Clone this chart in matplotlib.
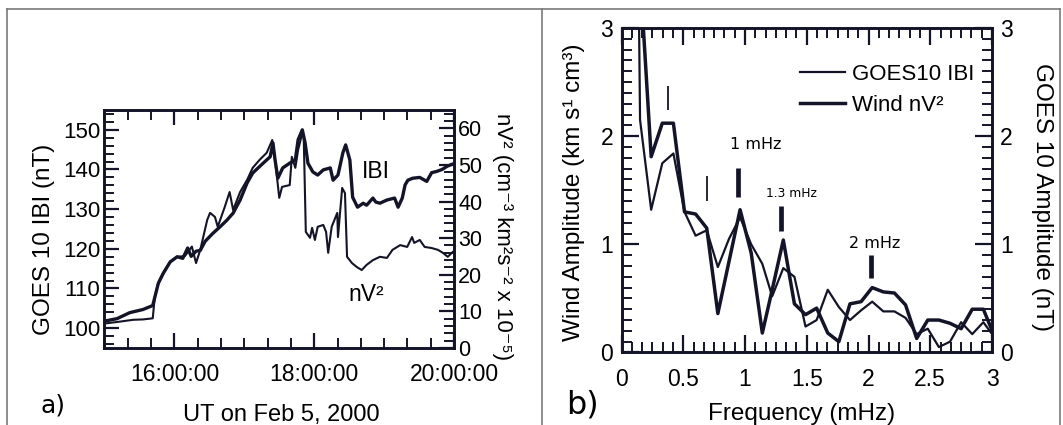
import numpy as np
import matplotlib.pyplot as plt
from matplotlib.lines import Line2D
from matplotlib.ticker import MultipleLocator, FixedLocator

plt.rcParams['font.family'] = ['Liberation Sans', 'DejaVu Sans']

# panel a) GOES 10 |B| (nT) and Wind nV^2, time in hours UT on Feb 5, 2000
ibi_t = [15.01, 15.18, 15.36, 15.55, 15.69, 15.72, 15.77, 15.84, 15.94, 16.04,
         16.12, 16.19, 16.24, 16.31, 16.37, 16.44, 16.55, 16.65, 16.75, 16.84,
         16.94, 17.04, 17.12, 17.27, 17.37, 17.41, 17.44, 17.48, 17.55, 17.65,
         17.73, 17.77, 17.83, 17.87, 17.91, 17.98, 18.05, 18.13, 18.23, 18.27,
         18.34, 18.41, 18.45, 18.51, 18.55, 18.62, 18.70, 18.75, 18.84, 18.88,
         18.94, 19.04, 19.15, 19.20, 19.26, 19.30, 19.34, 19.41, 19.51, 19.61,
         19.68, 19.75, 19.83, 19.90, 19.97]
ibi_nt = [101.8, 102.4, 103.9, 104.7, 105.7, 107.8, 111.3, 113.8, 116.7, 118.0,
          117.6, 120.2, 118.1, 119.4, 119.6, 121.9, 123.9, 125.5, 127.2, 129.0,
          132.3, 136.6, 139.1, 141.6, 143.2, 146.7, 142.4, 137.8, 140.4, 141.6,
          142.4, 147.5, 150.0, 146.7, 141.6, 139.4, 138.6, 139.9, 140.4, 137.3,
          138.6, 144.2, 146.2, 142.4, 133.0, 130.5, 131.5, 131.0, 132.8, 131.8,
          131.5, 132.3, 132.8, 130.5, 132.8, 136.1, 137.3, 137.8, 138.0, 137.0,
          139.2, 139.5, 140.0, 140.8, 141.3]

nv2_t = [15.01, 15.22, 15.41, 15.55, 15.69, 15.72, 15.77, 15.84, 15.94, 16.04,
         16.15, 16.25, 16.31, 16.37, 16.47, 16.51, 16.58, 16.62, 16.72, 16.79,
         16.84, 16.94, 17.04, 17.12, 17.22, 17.32, 17.40, 17.44, 17.50, 17.54,
         17.65, 17.68, 17.73, 17.77, 17.83, 17.85, 17.88, 17.94, 17.97, 18.01,
         18.05, 18.13, 18.17, 18.20, 18.25, 18.33, 18.34, 18.40, 18.44, 18.47,
         18.54, 18.61, 18.68, 18.75, 18.84, 18.94, 19.04, 19.12, 19.23, 19.33,
         19.40, 19.43, 19.51, 19.58, 19.68, 19.77, 19.84, 19.91, 19.98]
nv2_val = [6.7, 7.2, 7.7, 7.8, 8.1, 14.0, 17.8, 20.5, 23.6, 24.9,
           25.1, 27.7, 23.2, 26.8, 35.0, 36.9, 35.8, 33.1, 38.5, 42.6,
           37.7, 42.6, 45.9, 49.2, 51.4, 53.3, 56.8, 51.4, 41.0, 44.0,
           44.5, 52.2, 49.2, 54.1, 58.7, 57.7, 31.7, 30.1, 32.8, 29.5,
           33.1, 33.6, 31.7, 26.0, 33.1, 36.9, 30.3, 43.7, 42.3, 24.9,
           23.2, 22.1, 21.3, 22.7, 24.0, 24.9, 24.6, 26.8, 28.1, 27.6,
           30.3, 28.7, 29.5, 27.6, 27.3, 26.8, 26.0, 24.9, 26.2]

# panel b) amplitude spectra
freq_mhz = [0.06, 0.15, 0.24, 0.33, 0.42, 0.51, 0.60, 0.69, 0.78, 0.87,
            0.96, 1.05, 1.14, 1.22, 1.31, 1.40, 1.49, 1.58, 1.67, 1.76,
            1.85, 1.94, 2.03, 2.12, 2.21, 2.30, 2.39, 2.48, 2.57, 2.66,
            2.75, 2.84, 2.93, 3.02]
goes_amp = [12.0, 2.15, 1.32, 1.75, 1.84, 1.30, 1.08, 1.13, 0.79, 1.05,
            1.25, 1.00, 0.82, 0.52, 0.78, 0.70, 0.24, 0.30, 0.58, 0.42,
            0.30, 0.39, 0.47, 0.38, 0.38, 0.32, 0.17, 0.22, 0.05, 0.10,
            0.28, 0.17, 0.28, 0.14]
wind_amp = [5.0, 3.5, 1.81, 2.12, 2.12, 1.30, 1.28, 1.15, 0.36, 0.84,
            1.32, 0.92, 0.18, 0.58, 1.04, 0.45, 0.35, 0.41, 0.18, 0.10,
            0.45, 0.47, 0.60, 0.56, 0.55, 0.44, 0.13, 0.30, 0.30, 0.27,
            0.22, 0.40, 0.40, 0.15]

# hand-drawn markers on panel b
thin_mark_f = [0.374, 0.69]
thin_mark_lo = [2.24, 1.40]
thin_mark_hi = [2.46, 1.63]
bar_mark_f = [0.946, 1.29, 2.02]
bar_mark_lo = [1.44, 1.12, 0.69]
bar_mark_hi = [1.71, 1.35, 0.90]
peak_labels = ['1 mHz', '1.3 mHz', '2 mHz']
peak_label_f = [1.087, 1.375, 2.047]
peak_label_amp = [1.92, 1.47, 1.01]
peak_label_size = [11.5, 8.8, 11.5]

ink = '#141428'


def style_ticks(ax, which_axes, maj=11, mino=7):
    ax.tick_params(axis=which_axes, which='major', direction='in', length=maj,
                   width=1.6, colors=ink, labelcolor='black')
    ax.tick_params(axis=which_axes, which='minor', direction='in', length=mino,
                   width=1.4, colors=ink)


def heavy_spines(ax):
    for s in ax.spines.values():
        s.set_linewidth(1.9)
        s.set_color(ink)


fig = plt.figure(figsize=(10.63, 4.25), dpi=100)

# ---------------- panel a ----------------
axa = fig.add_axes([0.0983, 0.1812, 0.3288, 0.56])
axa2 = axa.twinx()
axa.plot(ibi_t, ibi_nt, color=ink, lw=2.4)
axa2.plot(nv2_t, nv2_val, color=ink, lw=1.5)
axa.set_xlim(15, 20)
axa.set_ylim(95, 155)
axa2.set_ylim(0, 65)

axa.xaxis.set_major_locator(FixedLocator([16, 18, 20]))
axa.set_xticklabels(['16:00:00', '18:00:00', '20:00:00'])
axa.xaxis.set_minor_locator(MultipleLocator(1 / 3))
axa.yaxis.set_major_locator(MultipleLocator(10))
axa.yaxis.set_minor_locator(MultipleLocator(2))
axa2.yaxis.set_major_locator(MultipleLocator(10))
axa2.yaxis.set_minor_locator(MultipleLocator(2))

style_ticks(axa, 'both')
style_ticks(axa2, 'y')
axa.tick_params(axis='x', which='both', top=True, bottom=True, labelsize=16.5, pad=11)
axa.tick_params(axis='y', which='both', left=True, right=False, labelsize=16, pad=3)
axa2.tick_params(axis='y', which='both', right=True, left=False, labelsize=15.5, pad=3)
heavy_spines(axa)
heavy_spines(axa2)

axa.set_xlabel('UT on Feb 5, 2000', fontsize=17, va='center')
axa.xaxis.set_label_coords(0.505, -0.28)
axa.set_ylabel('GOES 10 IBI (nT)', fontsize=17.5, va='center')
axa.yaxis.set_label_coords(-0.172, 0.458)
axa2.set_ylabel('nV² (cm⁻³ km²s⁻² x 10⁻⁵)', fontsize=16, rotation=270, va='center')
axa2.yaxis.set_label_coords(1.14, 0.47)

axa.text(18.88, 139.5, 'IBI', fontsize=16.5, ha='center', va='center')
axa.text(18.74, 108.4, 'nV²', fontsize=16.5, ha='center', va='center')

# ---------------- panel b ----------------
axb = fig.add_axes([0.5847, 0.1706, 0.3485, 0.7635])
axb2 = axb.twinx()
l_goes, = axb.plot(freq_mhz, goes_amp, color=ink, lw=1.6)
l_wind, = axb.plot(freq_mhz, wind_amp, color=ink, lw=2.5)
axb.set_xlim(0, 3)
axb.set_ylim(0, 3)
axb2.set_ylim(0, 3)
axb.xaxis.set_major_locator(MultipleLocator(0.5))
axb.xaxis.set_major_formatter(plt.FuncFormatter(lambda v, p: '%g' % v))
axb.xaxis.set_minor_locator(MultipleLocator(0.5 / 6))
for a in (axb, axb2):
    a.yaxis.set_major_locator(MultipleLocator(1))
    a.yaxis.set_minor_locator(MultipleLocator(0.1))

style_ticks(axb, 'both', maj=12, mino=7)
style_ticks(axb2, 'y', maj=12, mino=7)
axb.tick_params(axis='x', which='both', top=True, bottom=True, labelsize=16.5, pad=11)
axb.tick_params(axis='y', which='both', left=True, right=False, labelsize=16.5, pad=6)
axb2.tick_params(axis='y', which='both', right=True, left=False, labelsize=16.5, pad=6)
heavy_spines(axb)
heavy_spines(axb2)

axb.vlines(thin_mark_f, thin_mark_lo, thin_mark_hi, color=ink, lw=1.3)
axb.vlines(bar_mark_f, bar_mark_lo, bar_mark_hi, color=ink, lw=3.4)
for lab, f, a, fs in zip(peak_labels, peak_label_f, peak_label_amp, peak_label_size):
    axb.text(f, a, lab, fontsize=fs, family='DejaVu Sans', ha='center', va='center')

axb.legend([l_goes, l_wind], ['GOES10 IBI', 'Wind nV²'], loc='upper left',
           bbox_to_anchor=(0.482, 0.89), frameon=False, fontsize=16,
           handlelength=2.0, handletextpad=0.35, labelspacing=0.45,
           borderpad=0, borderaxespad=0)

axb.set_xlabel('Frequency (mHz)', fontsize=17.5, va='center')
axb.xaxis.set_label_coords(0.487, -0.19)
axb.set_ylabel('Wind Amplitude (km s¹ cm³)', fontsize=17.5, va='center')
axb.yaxis.set_label_coords(-0.128, 0.493)
axb2.set_ylabel('GOES 10 Amplitude (nT)', fontsize=17.5, rotation=270, va='center')
axb2.yaxis.set_label_coords(1.135, 0.48)

# panel letters
fig.text(0.05, 0.045, 'a)', fontsize=18, family='DejaVu Sans', ha='center', va='center')
fig.text(0.5475, 0.048, 'b)', fontsize=23, family='DejaVu Sans', ha='center', va='center')

# frame around the two panels
W, H = 1063.0, 425.0
frame_col = '#7a7a7a'
for x0, y0, x1, y1 in [(7, 9, 1060, 9), (7, 9, 7, 425), (542, 9, 542, 425), (1060, 9, 1060, 425)]:
    fig.add_artist(Line2D([x0 / W, x1 / W], [1 - y0 / H, 1 - y1 / H],
                          color=frame_col, lw=1.2, transform=fig.transFigure))

fig.savefig('out.png', dpi=100, facecolor='white')
